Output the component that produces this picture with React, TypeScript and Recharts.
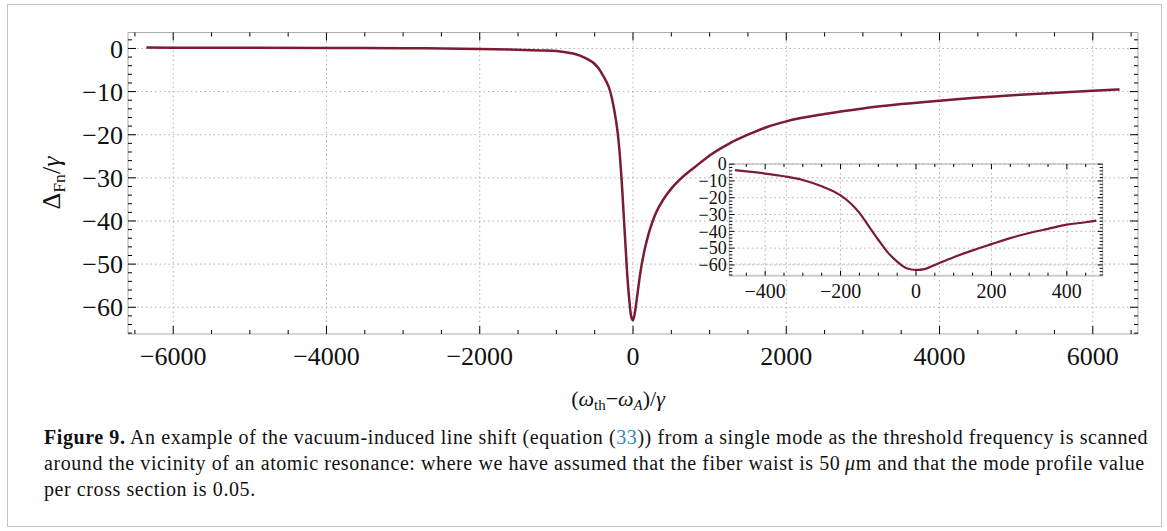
import React from "react";
import { LineChart, Line, XAxis, YAxis, CartesianGrid } from "recharts";

// main curve
const MAIN_X = [-6350, -5000, -4000, -3000, -2000, -1500, -1200, -1000, -900, -800, -700, -600, -500, -450, -400, -350, -300, -250, -200, -175, -150, -125, -100, -75, -50, -25, 0, 25, 50, 100, 150, 200, 250, 300, 400, 500, 600, 700, 800, 1000, 1250, 1500, 1750, 2000, 2500, 3000, 3500, 4000, 5000, 6000, 6350];
const MAIN_Y = [0.2, 0.15, 0.1, 0.05, -0.1, -0.3, -0.45, -0.6, -0.8, -1.1, -1.6, -2.4, -3.6, -4.6, -6, -7.6, -9.8, -13.8, -19.5, -24, -30, -37.5, -45, -52.5, -58, -62, -63, -61.2, -58, -51.5, -46.8, -43.2, -40.4, -38.1, -34.9, -32.5, -30.6, -29, -27.6, -24.8, -22.1, -20, -18.2, -16.9, -15.2, -13.9, -12.9, -12.1, -10.8, -9.8, -9.5];

// inset curve
const INSET_X = [-480, -450, -400, -350, -300, -250, -200, -175, -150, -125, -100, -75, -50, -25, 0, 25, 50, 100, 150, 200, 250, 300, 350, 400, 450, 478];
const INSET_Y = [-3.6, -4.3, -5.6, -7.2, -9.4, -13.2, -18.6, -23, -29, -37, -45, -52.5, -58, -62, -63, -62.3, -60, -55.4, -51.3, -47.6, -44, -41, -38.5, -36, -34.6, -33.6];

const MAIN_X_LABELS = [-6000, -4000, -2000, 0, 2000, 4000, 6000];
const MAIN_Y_LABELS = [0, -10, -20, -30, -40, -50, -60];
const INSET_X_LABELS = [-400, -200, 0, 200, 400];
const INSET_Y_LABELS = [0, -10, -20, -30, -40, -50, -60];

const range = (a: number, b: number, s: number) => {
  const out: number[] = [];
  for (let v = a; v <= b + 1e-9; v += s) out.push(Math.round(v * 1000) / 1000);
  return out;
};

const MAIN_X_TICKS = range(-6500, 6500, 500);
const MAIN_Y_TICKS = range(-66, 2, 2);
const INSET_X_TICKS = range(-450, 450, 50);
const INSET_Y_TICKS = range(-66, 0, 2);

const CURVE = "#7b1c34";
const FRAME = "#aaaaaa";
const GRID = "#b0b0b0";
const FONT = "'Liberation Serif', 'Times New Roman', serif";

const fmt = (v: number) => (v < 0 ? "\u2212" + Math.abs(v) : String(v));

type Side = "bottom" | "top" | "left" | "right";

function makeTick(side: Side, majors: number[], major: number, minor: number, fontSize = 0, offset = 0) {
  return (p: any) => {
    const { x, y, payload } = p;
    const v = payload.value;
    const isMajor = majors.includes(v);
    const len = isMajor ? major : minor;
    let x2 = x, y2 = y;
    if (side === "bottom") y2 = y - len;
    if (side === "top") y2 = y + len;
    if (side === "left") x2 = x + len;
    if (side === "right") x2 = x - len;
    return (
      <g>
        <line x1={x} y1={y} x2={x2} y2={y2} stroke="#000" strokeWidth={1} />
        {fontSize > 0 && isMajor && side === "bottom" && (
          <text x={x} y={y + offset} textAnchor="middle" fontSize={fontSize} fontFamily={FONT} fill="#111">
            {fmt(v)}
          </text>
        )}
        {fontSize > 0 && isMajor && side === "left" && (
          <text x={x - offset} y={y} dy="0.35em" textAnchor="end" fontSize={fontSize} fontFamily={FONT} fill="#111">
            {fmt(v)}
          </text>
        )}
      </g>
    );
  };
}

const mainData = MAIN_X.map((x, i) => ({ x, y: MAIN_Y[i] }));
const insetData = INSET_X.map((x, i) => ({ x, y: INSET_Y[i] }));

function MainChart() {
  const xd: [number, number] = [-6590, 6590];
  const yd: [number, number] = [-66.2, 3.7];
  return (
    <LineChart width={1167} height={420} data={mainData} margin={{ top: 22.5, right: 19, left: 68, bottom: 56 }}>
      <CartesianGrid
        xAxisId="b"
        yAxisId="l"
        verticalValues={MAIN_X_LABELS}
        horizontalValues={MAIN_Y_LABELS}
        stroke={GRID}
        strokeDasharray="1.5 3"
      />
      <XAxis xAxisId="b" dataKey="x" type="number" domain={xd} ticks={MAIN_X_TICKS} interval={0}
        axisLine={{ stroke: FRAME }} tickLine={false} tickSize={0} tickMargin={0} height={30}
        tick={makeTick("bottom", MAIN_X_LABELS, 8, 4, 26, 31)} />
      <XAxis xAxisId="t" orientation="top" dataKey="x" type="number" domain={xd} ticks={MAIN_X_TICKS} interval={0}
        axisLine={{ stroke: FRAME }} tickLine={false} tickSize={0} tickMargin={0} height={10}
        tick={makeTick("top", MAIN_X_LABELS, 8, 4)} />
      <YAxis yAxisId="l" type="number" domain={yd} ticks={MAIN_Y_TICKS} interval={0}
        axisLine={{ stroke: FRAME }} tickLine={false} tickSize={0} tickMargin={0} width={60}
        tick={makeTick("left", MAIN_Y_LABELS, 8, 4, 26, 5)} />
      <YAxis yAxisId="r" orientation="right" type="number" domain={yd} ticks={MAIN_Y_TICKS} interval={0}
        axisLine={{ stroke: FRAME }} tickLine={false} tickSize={0} tickMargin={0} width={10}
        tick={makeTick("right", MAIN_Y_LABELS, 8, 4)} />
      <Line xAxisId="t" yAxisId="r" dataKey="y" type="monotone" stroke="none" dot={false} isAnimationActive={false} />
      <Line xAxisId="b" yAxisId="l" dataKey="y" type="monotone" stroke={CURVE} strokeWidth={2.5} dot={false} isAnimationActive={false} />
    </LineChart>
  );
}

function InsetChart() {
  const xd: [number, number] = [-495, 495];
  const yd: [number, number] = [-66.4, 0.1];
  return (
    <LineChart width={440} height={170} data={insetData} margin={{ top: 19, right: 12.3, left: 9.3, bottom: 9.3 }}>
      <CartesianGrid
        xAxisId="b"
        yAxisId="l"
        verticalValues={INSET_X_LABELS}
        horizontalValues={INSET_Y_LABELS}
        stroke={GRID}
        strokeDasharray="1.5 3"
      />
      <XAxis xAxisId="b" dataKey="x" type="number" domain={xd} ticks={INSET_X_TICKS} interval={0}
        axisLine={{ stroke: "#cccccc", strokeWidth: 2 }} tickLine={false} tickSize={0} tickMargin={0} height={25}
        tick={makeTick("bottom", INSET_X_LABELS, 5, 3, 20, 22.3)} />
      <XAxis xAxisId="t" orientation="top" dataKey="x" type="number" domain={xd} ticks={INSET_X_TICKS} interval={0}
        axisLine={{ stroke: FRAME }} tickLine={false} tickSize={0} tickMargin={0} height={5}
        tick={makeTick("top", INSET_X_LABELS, 5, 3)} />
      <YAxis yAxisId="l" type="number" domain={yd} ticks={INSET_Y_TICKS} interval={0}
        axisLine={{ stroke: FRAME }} tickLine={false} tickSize={0} tickMargin={0} width={40}
        tick={makeTick("left", INSET_Y_LABELS, 5, 3, 18, 2.6)} />
      <YAxis yAxisId="r" orientation="right" type="number" domain={yd} ticks={INSET_Y_TICKS} interval={0}
        axisLine={{ stroke: FRAME }} tickLine={false} tickSize={0} tickMargin={0} width={5}
        tick={makeTick("right", INSET_Y_LABELS, 5, 3)} />
      <Line xAxisId="t" yAxisId="r" dataKey="y" type="monotone" stroke="none" dot={false} isAnimationActive={false} />
      <Line xAxisId="b" yAxisId="l" dataKey="y" type="monotone" stroke={CURVE} strokeWidth={2.2} dot={false} isAnimationActive={false} />
    </LineChart>
  );
}

const subStyle: React.CSSProperties = { fontSize: "0.68em", lineHeight: 0, verticalAlign: "-0.3em" };

export default function App() {
  return (
    <div style={{ position: "absolute", left: 0, top: 0, width: 1167, height: 531, background: "#fff", fontFamily: FONT, color: "#111" }}>
      <div style={{ position: "absolute", left: 7, top: 4, width: 1155, height: 523, border: "1.5px solid #c4c4c4", boxSizing: "border-box" }} />
      <div style={{ position: "absolute", left: 0, top: 0 }}>
        <MainChart />
      </div>
      <div style={{ position: "absolute", left: 680, top: 140 }}>
        <InsetChart />
      </div>
      {/* y axis title */}
      <div style={{ position: "absolute", left: 2, top: 168, width: 100, height: 30, lineHeight: "30px", fontSize: 26, textAlign: "center", transform: "rotate(-90deg)", transformOrigin: "50% 50%", whiteSpace: "nowrap" }}>
        {"\u0394"}<span style={subStyle}>Fn</span>/<i>{"\u03b3"}</i>
      </div>
      {/* x axis title */}
      <div style={{ position: "absolute", left: 518, top: 387.6, width: 200, lineHeight: "22px", fontSize: 22, textAlign: "center", whiteSpace: "nowrap" }}>
        (<i>{"\u03c9"}</i><span style={subStyle}>th</span>{"\u2212"}<i>{"\u03c9"}</i><span style={subStyle}><i>A</i></span>)/<i>{"\u03b3"}</i>
      </div>
      {/* caption */}
      <div style={{ position: "absolute", left: 44, top: 424, fontSize: 20, letterSpacing: 0.58, lineHeight: "26px", whiteSpace: "nowrap" }}>
        <div>
          <b>Figure 9.</b> An example of the vacuum-induced line shift (equation (<span style={{ color: "#2b8cc4" }}>33</span>)) from a single mode as the threshold frequency is scanned
        </div>
        <div>
          around the vicinity of an atomic resonance: where we have assumed that the fiber waist is 50{"\u2009"}<i>{"\u03bc"}</i>m and that the mode profile value
        </div>
        <div>per cross section is 0.05.</div>
      </div>
    </div>
  );
}
